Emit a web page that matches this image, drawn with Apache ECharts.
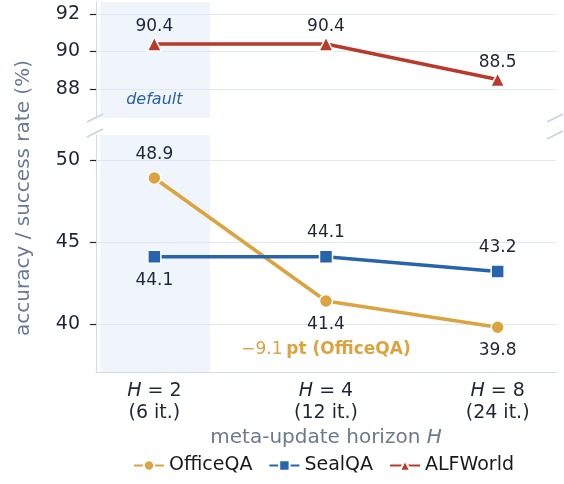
<!DOCTYPE html>
<html><head><meta charset="utf-8">
<script src="https://cdn.jsdelivr.net/npm/echarts@6/dist/echarts.min.js"></script>
<style>html,body{margin:0;padding:0;background:#fff}#c{width:564px;height:484px}</style>
</head><body><div id="c"></div>
<script>
// ---- data ----
const horizons = ['2', '4', '8'];
const iterations = ['6', '12', '24'];
const officeQA = [48.9, 41.4, 39.8];
const sealQA = [44.1, 44.1, 43.2];
const alfWorld = [90.4, 90.4, 88.5];
const topTicks = [88, 90, 92];
const bottomTicks = [40, 45, 50];
const seriesNames = ['OfficeQA', 'SealQA', 'ALFWorld'];

// ---- styles ----
const FONT = 'DejaVu Sans';
const C_ORANGE = '#dba440', C_BLUE = '#2764ab', C_RED = '#b93a2b';
const TICK_COLOR = '#1e2636', NAME_COLOR = '#6b7a90';
const GRID_LINE = '#e3e8f0', AXIS_LINE = '#d3dbe6';
const officePos = ['top', 'bottom', 'bottom'];
const sealPos = ['bottom', 'top', 'top'];

const chart = echarts.init(document.getElementById('c'), null, {renderer: 'canvas'});

const xMin = -0.34, xMax = 2.34;
function yAxisCfg(gridIndex, min, max, ticks) {
  return {
    type: 'value', gridIndex, min, max,
    axisLine: {show: true, onZero: false, lineStyle: {color: AXIS_LINE, width: 1.2}},
    axisTick: {show: true, customValues: ticks, length: 6, lineStyle: {color: TICK_COLOR, width: 1.2}},
    axisLabel: {customValues: ticks, margin: 16, fontSize: 19, color: TICK_COLOR, fontFamily: FONT},
    splitLine: {show: true, lineStyle: {color: GRID_LINE, width: 1}}
  };
}
function mk(vals, pos, dist) {
  return vals.map((v, i) => ({value: [i, v], label: {position: pos[i], distance: dist}}));
}
const shade = {
  silent: true,
  itemStyle: {color: 'rgba(214,228,248,0.36)'},
  data: [[{xAxis: -0.315}, {xAxis: 0.325}]]
};
const baseLabel = {show: true, fontSize: 17, color: TICK_COLOR, fontFamily: FONT, formatter: p => p.value[1].toFixed(1)};

chart.setOption({
  animation: false,
  textStyle: {fontFamily: FONT},
  grid: [
    {left: 96, right: 8, top: 2, height: 116},
    {left: 96, right: 8, top: 135, height: 237}
  ],
  xAxis: [
    {type: 'value', gridIndex: 0, min: xMin, max: xMax, show: true,
     axisLine: {show: false}, axisTick: {show: false}, axisLabel: {show: false}, splitLine: {show: false}},
    {type: 'value', gridIndex: 1, min: xMin, max: xMax,
     axisLine: {show: true, onZero: false, lineStyle: {color: AXIS_LINE, width: 1.2}},
     axisTick: {show: false}, splitLine: {show: false},
     axisLabel: {customValues: [0, 1, 2], margin: 8, fontSize: 19, lineHeight: 22, color: TICK_COLOR, fontFamily: FONT,
       formatter: v => '{i|H} = ' + horizons[v] + '\n(' + iterations[v] + ' it.)',
       rich: {i: {fontStyle: 'italic', fontSize: 19, lineHeight: 22, color: TICK_COLOR, fontFamily: FONT}}},
     name: 'meta-update horizon {i|H}', nameLocation: 'middle', nameGap: 56,
     nameTextStyle: {fontSize: 20, color: NAME_COLOR, fontFamily: FONT,
       rich: {i: {fontStyle: 'italic', fontSize: 20, color: NAME_COLOR, fontFamily: FONT}}}}
  ],
  yAxis: [
    yAxisCfg(0, 86.45, 92.64, topTicks),
    yAxisCfg(1, 37.07, 51.52, bottomTicks)
  ],
  legend: {
    data: seriesNames, left: 128, bottom: 4, itemWidth: 30, itemHeight: 13, itemGap: 16,
    textStyle: {fontSize: 19, color: '#1a1a1a', fontFamily: FONT}
  },
  series: [
    {name: 'OfficeQA', type: 'line', xAxisIndex: 1, yAxisIndex: 1, data: mk(officeQA, officePos, 8),
     symbol: 'circle', symbolSize: 13, lineStyle: {color: C_ORANGE, width: 3.6},
     itemStyle: {color: C_ORANGE, borderColor: '#fff', borderWidth: 1.5},
     label: baseLabel, z: 3,
     markArea: shade,
     markPoint: {silent: true, symbol: 'circle', symbolSize: 0,
       data: [{coord: [1, 38.42]}],
       label: {show: true, position: 'inside', formatter: '{n|\u22129.1} {b|pt (OfficeQA)}',
         rich: {n: {fontSize: 17, color: C_ORANGE, fontFamily: FONT},
                b: {fontSize: 17, fontWeight: 'bold', color: C_ORANGE, fontFamily: FONT}}}}},
    {name: 'SealQA', type: 'line', xAxisIndex: 1, yAxisIndex: 1, data: mk(sealQA, sealPos, 8),
     symbol: 'rect', symbolSize: 13, lineStyle: {color: C_BLUE, width: 3.6},
     itemStyle: {color: C_BLUE, borderColor: '#fff', borderWidth: 1.5},
     label: baseLabel, z: 3},
    {name: 'ALFWorld', type: 'line', xAxisIndex: 0, yAxisIndex: 0, data: mk(alfWorld, ['top', 'top', 'top'], 1),
     symbol: 'triangle', symbolSize: 14, lineStyle: {color: C_RED, width: 3.6},
     itemStyle: {color: C_RED, borderColor: '#fff', borderWidth: 1.5},
     label: baseLabel, z: 3,
     markArea: shade,
     markPoint: {silent: true, symbol: 'circle', symbolSize: 0,
       data: [{coord: [0, 87.4]}],
       label: {show: true, position: 'inside', formatter: 'default', fontSize: 16, fontStyle: 'italic',
         color: '#2a62a8', fontFamily: FONT}}}
  ],
  graphic: [
    {type: 'text', x: 24, y: 198, rotation: Math.PI / 2,
     style: {text: 'accuracy / success rate (%)', fontSize: 20, fill: NAME_COLOR, fontFamily: FONT,
             align: 'center', verticalAlign: 'middle'}},
    {type: 'line', shape: {x1: 87, y1: 122, x2: 103, y2: 114}, style: {stroke: '#c5d2e2', lineWidth: 1.5}},
    {type: 'line', shape: {x1: 87, y1: 137, x2: 103, y2: 129}, style: {stroke: '#c5d2e2', lineWidth: 1.5}},
    {type: 'line', shape: {x1: 547, y1: 122, x2: 563, y2: 114}, style: {stroke: '#c5d2e2', lineWidth: 1.5}},
    {type: 'line', shape: {x1: 547, y1: 139, x2: 563, y2: 131}, style: {stroke: '#c5d2e2', lineWidth: 1.5}}
  ]
});
</script></body></html>
